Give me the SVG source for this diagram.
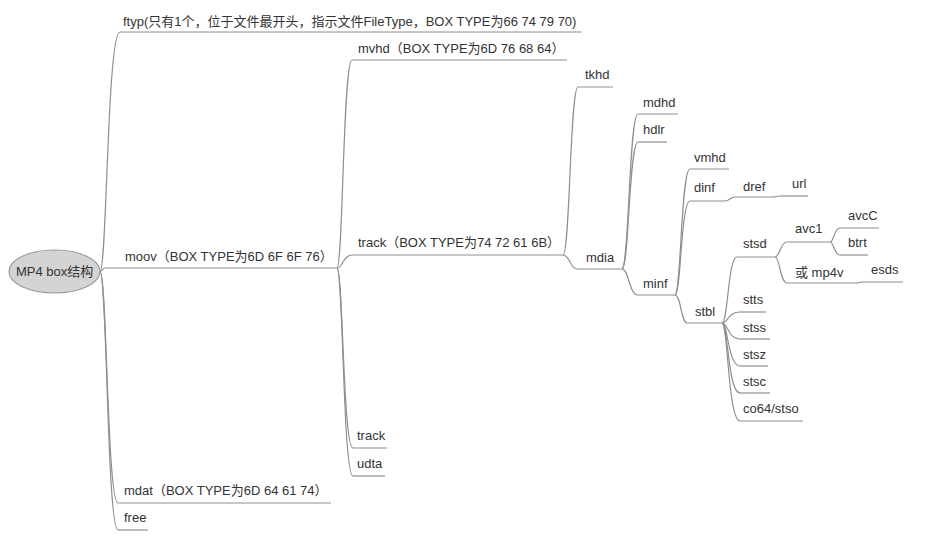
<svg xmlns="http://www.w3.org/2000/svg" width="937" height="541" viewBox="0 0 937 541">
<style>
  .bg { fill: #ffffff; }
  .t { font-family: "Liberation Sans", Arial, "Noto Sans CJK SC", sans-serif; font-size: 13px; fill: #333333; }
  .u { stroke: #8f8f8f; stroke-width: 1.2; fill: none; }
  .c { stroke: #8f8f8f; stroke-width: 1.2; fill: none; }
  .root { fill: #d4d4d4; stroke: #9a9a9a; stroke-width: 1.2; }
</style>
<rect class="bg" x="0" y="0" width="937" height="541"/>

<g id="connectors">
  <path class="c" d="M100 271.5 C107 271.5 107 32 120 32"/>
  <path class="c" d="M100 271.5 C102.5 271.5 102.5 268 105 268"/>
  <path class="c" d="M100 271.5 C107 271.5 107 503 118 503"/>
  <path class="c" d="M100 271.5 C107 271.5 107 530 118 530"/>

  <path class="c" d="M337 268 C343 268 343 60 352 60"/>
  <path class="c" d="M337 268 C343 268 343 255 352 255"/>
  <path class="c" d="M337 268 C343 268 343 448 353 448"/>
  <path class="c" d="M337 268 C343 268 343 476 353 476"/>

  <path class="c" d="M563 255 C570 255 570 87 578 87"/>
  <path class="c" d="M563 255 C570 255 570 269 577 269"/>

  <path class="c" d="M622 269 C629 269 629 114 638 114"/>
  <path class="c" d="M622 269 C629 269 629 142 638 142"/>
  <path class="c" d="M622 269 C629 269 629 295 638 295"/>

  <path class="c" d="M675 295 C681 295 681 169 690 169"/>
  <path class="c" d="M675 295 C681 295 681 201 690 201"/>
  <path class="c" d="M675 295 C681 295 681 323 687 323"/>

  <path class="c" d="M725 201 C730 201 730 197 735 197"/>
  <path class="c" d="M773 197 C776.5 197 776.5 196 780 196"/>

  <path class="c" d="M722 323 C728 323 728 257 737 257"/>
  <path class="c" d="M722 323 C728 323 728 312 740 312"/>
  <path class="c" d="M722 323 C728 323 728 339 740 339"/>
  <path class="c" d="M722 323 C728 323 728 366 740 366"/>
  <path class="c" d="M722 323 C728 323 728 393 740 393"/>
  <path class="c" d="M722 323 C728 323 728 421 740 421"/>

  <path class="c" d="M775 257 C780 257 780 242 787 242"/>
  <path class="c" d="M775 257 C780 257 780 283 787 283"/>

  <path class="c" d="M830 242 C834 242 834 228 840 228"/>
  <path class="c" d="M830 242 C834 242 834 255 840 255"/>

  <path class="c" d="M857 283 C859.5 283 859.5 282 862 282"/>
</g>

<g id="node-root">
  <ellipse class="root" cx="54.5" cy="271.5" rx="45.5" ry="21.5"/>
  <text class="t" x="16" y="275.5">MP4 box结构</text>
</g>

<g id="node-ftyp"><line class="u" x1="120" y1="32" x2="582" y2="32"/><text class="t" x="123" y="26">ftyp(只有1个，位于文件最开头，指示文件FileType，BOX TYPE为66 74 79 70)</text></g>
<g id="node-moov"><line class="u" x1="105" y1="268" x2="337" y2="268"/><text class="t" x="125" y="261">moov（BOX TYPE为6D 6F 6F 76）</text></g>
<g id="node-mdat"><line class="u" x1="118" y1="503" x2="331" y2="503"/><text class="t" x="124" y="495">mdat（BOX TYPE为6D 64 61 74）</text></g>
<g id="node-free"><line class="u" x1="118" y1="530" x2="148" y2="530"/><text class="t" x="124" y="522">free</text></g>

<g id="node-mvhd"><line class="u" x1="352" y1="60" x2="567" y2="60"/><text class="t" x="358" y="53">mvhd（BOX TYPE为6D 76 68 64）</text></g>
<g id="node-track1"><line class="u" x1="352" y1="255" x2="563" y2="255"/><text class="t" x="358" y="247">track（BOX TYPE为74 72 61 6B）</text></g>
<g id="node-track2"><line class="u" x1="353" y1="448" x2="387" y2="448"/><text class="t" x="357" y="440">track</text></g>
<g id="node-udta"><line class="u" x1="353" y1="476" x2="385" y2="476"/><text class="t" x="357" y="468">udta</text></g>

<g id="node-tkhd"><line class="u" x1="578" y1="87" x2="613" y2="87"/><text class="t" x="585" y="79">tkhd</text></g>
<g id="node-mdia"><line class="u" x1="577" y1="269" x2="622" y2="269"/><text class="t" x="586" y="262">mdia</text></g>

<g id="node-mdhd"><line class="u" x1="638" y1="114" x2="678" y2="114"/><text class="t" x="643" y="107">mdhd</text></g>
<g id="node-hdlr"><line class="u" x1="638" y1="142" x2="667" y2="142"/><text class="t" x="643" y="134">hdlr</text></g>
<g id="node-minf"><line class="u" x1="638" y1="295" x2="675" y2="295"/><text class="t" x="643" y="288">minf</text></g>

<g id="node-vmhd"><line class="u" x1="690" y1="169" x2="729" y2="169"/><text class="t" x="694" y="162">vmhd</text></g>
<g id="node-dinf"><line class="u" x1="690" y1="201" x2="725" y2="201"/><text class="t" x="694" y="192">dinf</text></g>
<g id="node-dref"><line class="u" x1="735" y1="197" x2="773" y2="197"/><text class="t" x="743" y="191">dref</text></g>
<g id="node-url"><line class="u" x1="780" y1="196" x2="808" y2="196"/><text class="t" x="792" y="188">url</text></g>
<g id="node-stbl"><line class="u" x1="687" y1="323" x2="722" y2="323"/><text class="t" x="695" y="316">stbl</text></g>

<g id="node-stsd"><line class="u" x1="737" y1="257" x2="775" y2="257"/><text class="t" x="743" y="248">stsd</text></g>
<g id="node-stts"><line class="u" x1="740" y1="312" x2="766" y2="312"/><text class="t" x="743" y="304">stts</text></g>
<g id="node-stss"><line class="u" x1="740" y1="339" x2="770" y2="339"/><text class="t" x="743" y="332">stss</text></g>
<g id="node-stsz"><line class="u" x1="740" y1="366" x2="768" y2="366"/><text class="t" x="743" y="359">stsz</text></g>
<g id="node-stsc"><line class="u" x1="740" y1="393" x2="770" y2="393"/><text class="t" x="743" y="386">stsc</text></g>
<g id="node-co64"><line class="u" x1="740" y1="421" x2="803" y2="421"/><text class="t" x="743" y="413">co64/stso</text></g>

<g id="node-avc1"><line class="u" x1="787" y1="242" x2="830" y2="242"/><text class="t" x="795" y="233">avc1</text></g>
<g id="node-mp4v"><line class="u" x1="787" y1="283" x2="857" y2="283"/><text class="t" x="795" y="277">或 mp4v</text></g>
<g id="node-avcC"><line class="u" x1="840" y1="228" x2="879" y2="228"/><text class="t" x="848" y="220">avcC</text></g>
<g id="node-btrt"><line class="u" x1="840" y1="255" x2="868" y2="255"/><text class="t" x="848" y="247">btrt</text></g>
<g id="node-esds"><line class="u" x1="862" y1="282" x2="903" y2="282"/><text class="t" x="871" y="274">esds</text></g>
</svg>
